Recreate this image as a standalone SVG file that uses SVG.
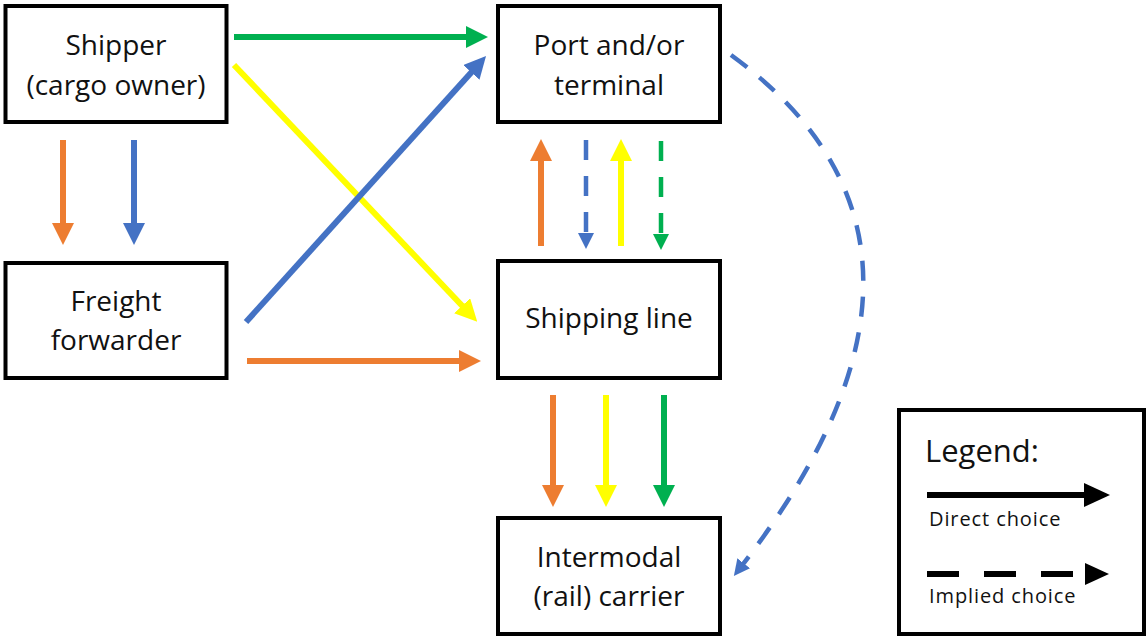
<svg xmlns="http://www.w3.org/2000/svg" width="1148" height="639" viewBox="0 0 1148 639">
  <style>
    .box { fill: #ffffff; stroke: #000000; stroke-width: 4; }
    .lbl { font-family: "Open Sans", "Liberation Sans", sans-serif; font-size: 28px; fill: #111111; text-anchor: middle; }
    .solid { fill: none; stroke-width: 6; }
    .dash { fill: none; stroke-width: 4.5; stroke-dasharray: 20 16; }
    .orange { stroke: #ED7D31; }
    .blue { stroke: #4472C4; }
    .yellow { stroke: #FFFF00; }
    .green { stroke: #00B050; }
    .legtxt { font-family: "Open Sans", "Liberation Sans", sans-serif; fill: #111111; }
    .legsmall { font-size: 20px; letter-spacing: 0.9px; }
  </style>
  <defs>
    <marker id="hOrange" viewBox="0 0 22 22" refX="10" refY="11" markerWidth="22" markerHeight="22" markerUnits="userSpaceOnUse" orient="auto"><path d="M0,0 L22,11 L0,22 z" fill="#ED7D31"/></marker>
    <marker id="hBlue" viewBox="0 0 22 22" refX="10" refY="11" markerWidth="22" markerHeight="22" markerUnits="userSpaceOnUse" orient="auto"><path d="M0,0 L22,11 L0,22 z" fill="#4472C4"/></marker>
    <marker id="hYellow" viewBox="0 0 22 22" refX="10" refY="11" markerWidth="22" markerHeight="22" markerUnits="userSpaceOnUse" orient="auto"><path d="M0,0 L22,11 L0,22 z" fill="#FFFF00"/></marker>
    <marker id="hGreen" viewBox="0 0 22 22" refX="10" refY="11" markerWidth="22" markerHeight="22" markerUnits="userSpaceOnUse" orient="auto"><path d="M0,0 L22,11 L0,22 z" fill="#00B050"/></marker>
    <marker id="hBlueS" viewBox="0 0 16 16" refX="6" refY="8" markerWidth="16" markerHeight="16" markerUnits="userSpaceOnUse" orient="auto"><path d="M0,0 L16,8 L0,16 z" fill="#4472C4"/></marker>
    <marker id="hGreenS" viewBox="0 0 16 16" refX="6" refY="8" markerWidth="16" markerHeight="16" markerUnits="userSpaceOnUse" orient="auto"><path d="M0,0 L16,8 L0,16 z" fill="#00B050"/></marker>
    <marker id="hBlack" viewBox="0 0 26 24" refX="10" refY="12" markerWidth="26" markerHeight="24" markerUnits="userSpaceOnUse" orient="auto"><path d="M0,0 L26,12 L0,24 z" fill="#000000"/></marker>
  </defs>

  <g id="shipper">
    <rect class="box" x="5.5" y="6" width="221" height="116"/>
    <text class="lbl" x="116" y="55">Shipper</text>
    <text class="lbl" x="116" y="95">(cargo owner)</text>
  </g>
  <g id="freight-forwarder">
    <rect class="box" x="5.5" y="263" width="221" height="115"/>
    <text class="lbl" x="116" y="311">Freight</text>
    <text class="lbl" x="116" y="350">forwarder</text>
  </g>
  <g id="port-terminal">
    <rect class="box" x="498" y="6" width="222" height="116"/>
    <text class="lbl" x="609" y="55">Port and/or</text>
    <text class="lbl" x="609" y="95">terminal</text>
  </g>
  <g id="shipping-line">
    <rect class="box" x="498" y="261" width="222" height="117"/>
    <text class="lbl" x="609" y="328">Shipping line</text>
  </g>
  <g id="intermodal-carrier">
    <rect class="box" x="498" y="518" width="222" height="116"/>
    <text class="lbl" x="609" y="567">Intermodal</text>
    <text class="lbl" x="609" y="606">(rail) carrier</text>
  </g>

  <g id="connectors">
    <!-- shipper to port -->
    <line class="solid green" x1="234" y1="37" x2="476" y2="37" marker-end="url(#hGreen)"/>
    <!-- shipper to shipping line -->
    <line class="solid yellow" x1="234" y1="65" x2="469" y2="313" marker-end="url(#hYellow)"/>
    <!-- forwarder to port -->
    <line class="solid blue" x1="246" y1="322" x2="478" y2="65" marker-end="url(#hBlue)"/>
    <!-- shipper to forwarder -->
    <line class="solid orange" x1="63" y1="140" x2="63" y2="233" marker-end="url(#hOrange)"/>
    <line class="solid blue" x1="134" y1="140" x2="134" y2="233" marker-end="url(#hBlue)"/>
    <!-- forwarder to shipping line -->
    <line class="solid orange" x1="247" y1="361" x2="469" y2="361" marker-end="url(#hOrange)"/>
    <!-- shipping line and port -->
    <line class="solid orange" x1="541" y1="246" x2="541" y2="151" marker-end="url(#hOrange)"/>
    <line class="dash blue" x1="586" y1="140" x2="586" y2="239" marker-end="url(#hBlueS)"/>
    <line class="solid yellow" x1="621" y1="246" x2="621" y2="151" marker-end="url(#hYellow)"/>
    <line class="dash green" x1="661" y1="141" x2="661" y2="240" marker-end="url(#hGreenS)"/>
    <!-- shipping line to intermodal -->
    <line class="solid orange" x1="553" y1="395" x2="553" y2="495" marker-end="url(#hOrange)"/>
    <line class="solid yellow" x1="606" y1="395" x2="606" y2="495" marker-end="url(#hYellow)"/>
    <line class="solid green" x1="664" y1="395" x2="664" y2="495" marker-end="url(#hGreen)"/>
    <!-- port to intermodal, implied -->
    <path class="dash blue" d="M731,55 Q991,245 740,568" marker-end="url(#hBlueS)"/>
  </g>

  <g id="legend">
    <rect class="box" x="899" y="410" width="245" height="224"/>
    <text class="legtxt" x="925" y="462" font-size="31">Legend:</text>
    <line x1="927" y1="495" x2="1094" y2="495" stroke="#000" stroke-width="6" marker-end="url(#hBlack)"/>
    <text class="legtxt legsmall" x="929" y="526">Direct choice</text>
    <line x1="927" y1="574" x2="1076" y2="574" stroke="#000" stroke-width="6" stroke-dasharray="32 25"/>
    <path d="M1085,563 L1109,574 L1085,585 z" fill="#000"/>
    <text class="legtxt legsmall" x="929" y="603">Implied choice</text>
  </g>
</svg>
